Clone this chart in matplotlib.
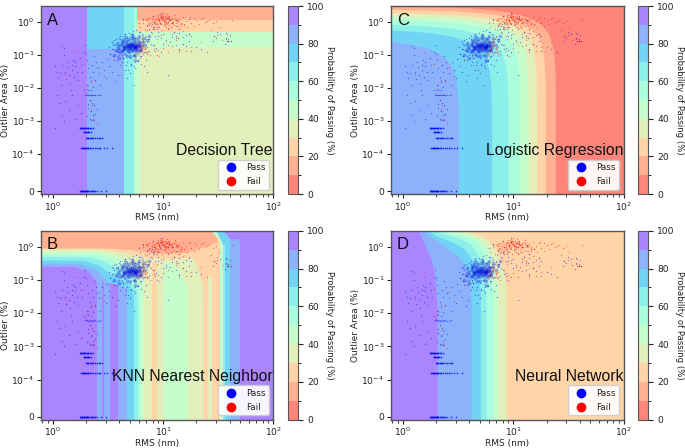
import numpy as np
import matplotlib
matplotlib.use("Agg")
import matplotlib.pyplot as plt
from matplotlib.colors import ListedColormap, BoundaryNorm
from matplotlib.cm import ScalarMappable
from matplotlib.lines import Line2D
from matplotlib.patches import Polygon
from matplotlib.ticker import NullLocator

# ---------- background fields ----------
levels = [0, 10, 20, 30, 40, 50, 60, 70, 80, 90, 100]
XMIN, XMAX, YMIN, YMAX = 0.78, 100, -8e-6, 3.0

# A: decision tree cells
tree_x = [0.78, 2.02, 4.4, 5.48, 5.82, 6.15, 100]
tree_y = [-8e-6, 0.15, 0.178, 0.49, 1.15, 3.0]
tree_p = [[95, 85, 65, 45, 45, 35],
          [95, 75, 65, 55, 45, 35],
          [95, 75, 65, 55, 45, 45],
          [95, 75, 65, 55, 25, 25],
          [95, 75, 65, 55, 15, 15]]

# B: KNN vertical strips (log10 RMS edges, band mid value)
knn_edges = [-0.11, .399, .442, .463, .517, .593, .674, .735, .769, .789, .828, .896, .941,
             1.010, 1.222, 1.367, 1.409, 1.440, 1.513, 1.545, 1.561, 1.606, 1.697, 2.0]
knn_vals = [95, 85, 95, 85, 95, 85, 75, 65, 55, 45, 35, 25, 35, 45, 35, 25, 35, 25, 45, 65, 75, 85, 95]
# B: level curves of the upper cap (log10 RMS, log10 area; -9 means the axis bottom)
knn_curves = [
    (85, [-.11, .2, .318, .39, .644, .672, .672], [-.606, -.606, -.727, -1.03, -1.121, -1.182, .5]),
    (75, [-.11, .245, .399, .499, .672, .672], [-.5, -.515, -.697, -1.06, -1.242, .5]),
    (65, [-.11, .29, .426, .563, .699, .735, .735], [-.409, -.424, -.576, -.909, -1.152, -1.455, .5]),
    (55, [-.11, .336, .472, .653, .762, .769, .769], [-.303, -.318, -.455, -.848, -1.303, -1.606, .5]),
    (45, [-.11, .381, .517, .653, .789, .808, .808], [-.227, -.242, -.364, -.636, -1.152, -1.606, .5]),
    (35, [-.11, .426, .563, .699, .835, .944, 1.08, 1.18, 1.225, 1.225, 1.367, 1.367],
         [-.152, -.152, -.242, -.455, -.545, -.455, -.515, -.788, -1.303, -9, -9, .5]),
    (45, [1.406, 1.488, 1.513, 1.545, 1.479], [.5, .273, .06, .06, .5]),
    (75, [1.479, 1.545, 1.606, 1.606, 1.534], [.5, .06, .06, .5, .5]),
    (25, [-.11, .426, .653, .835, 1.016, 1.27, 1.316, 1.361, 1.367, 1.367, 1.513, 1.513, 1.488, 1.406],
         [-.076, -.076, -.182, -.333, -.364, -.333, -.636, -1.152, -1.606, -9, -9, .06, .273, .5]),
    (35, [1.409, 1.409, 1.440, 1.440], [-9, -.909, -.909, -9]),
    (15, [-.11, .426, .699, .88, 1.062, 1.216, 1.379, 1.488, 1.497, 1.443, 1.379, 1.379],
         [-.045, -.045, -.091, -.182, -.212, -.182, 0, .121, .212, .424, .485, .5]),
    (95, [1.697, 1.606, 1.58, 1.534, 2.0, 2.0], [.227, .227, .35, .5, .5, .227]),
]

# C: logistic regression, straight boundaries (value, RMS intercept, area intercept)
logit_vals = [15, 25, 35, 45, 55, 65, 75, 85]
logit_x0 = [24.2, 19.6, 16.4, 13.7, 11.5, 9.0, 6.4, 3.2]
logit_y0 = [3.0, 2.4, 1.89, 1.54, 1.234, 0.876, 0.615, 0.317]

# D: neural network level curves (log10 RMS, log10 area)
nn_curves = [
    (35, [.485, .621, .742, .833, .909, .936, .942], [.49, .41, .28, -.04, -.64, -1.24, -1.94]),
    (45, [.409, .5, .621, .742, .827, .858, .864], [.49, .42, .33, .11, -.44, -1.14, -1.94]),
    (55, [.333, .439, .561, .682, .773, .812, .818], [.49, .39, .30, .11, -.44, -1.14, -1.94]),
    (65, [.288, .379, .5, .621, .712, .748, .755], [.49, .36, .26, .04, -.44, -1.14, -1.94]),
    (75, [.227, .318, .439, .561, .667, .697, .706], [.49, .28, .14, -.09, -.59, -1.14, -1.94]),
    (85, [.191, .258, .379, .5, .576, .615, .621], [.49, .26, .01, -.29, -.64, -1.24, -1.94]),
    (95, [.136, .197, .264, .294, .312], [.49, .06, -.44, -1.04, -1.74]),
]

# ---------- measurements ----------
pass_rms = [1.05,1.1,1.12,1.15,1.18,1.2,1.22,1.25,1.27,1.3,1.32,1.35,1.38,1.4,1.43,1.45,1.48,1.5,1.52,1.55,1.58,1.6,1.65,1.7,1.75,1.8,1.85,1.9,1.95,
    1.1,1.15,1.2,1.25,1.3,1.4,1.5,1.6,1.05,1.7,1.8,1.9,2.0,2.05,2.1,2.15,2.2,2.25,2.3,2.35,2.4,2.45,2.5,2.6,2.7,2.8,2.9,3.0,3.1,3.2,3.3,3.4,3.5,3.6,3.7,3.8,3.9,4.1,4.3,4.5,4.7,5.0,5.4,
    1.95,2.0,2.05,2.1,2.12,2.15,2.2,2.25,2.3,2.35,2.4,2.5,2.6,2.7,2.05,2.1,2.2,2.3,2.15,2.25,2.35,2.1,2.2,2.05,2.15,2.3,2.4,2.5,2.2,2.1,2.3,
    3.3,3.4,3.5,3.6,3.7,3.8,3.9,4.0,4.1,4.2,4.3,4.4,4.6,4.8,5.0,5.2,5.4,5.6,5.8,6.0,6.2,6.4,6.6,6.8,7.0,7.2,7.5,7.8,8.0,8.3,8.6,9.0,9.5,10,
    3.5,3.7,3.9,4.1,4.3,4.5,4.7,4.9,5.1,5.3,5.5,5.7,5.9,6.1,6.3,6.5,6.7,6.9,7.3,7.7,8.2,8.8,
    3.2,3.4,3.6,3.8,4.0,4.2,4.5,4.8,5.1,5.5,5.9,6.3,6.7,7.1,
    7.5,8.0,8.5,9.0,9.5,10,10.5,11,11.5,12,12.5,13,13.5,14,15,16,17,18,20,22,25,11,13,9.5,8.2,
    12,13,14,15,16,17,18,14,11,9.5,
    29,31,33,36,37,38,39,40,41,37,39,30,28,
    6.0,6.5,7.2,8.1,8.8,9.6,10.4,11.2,7.9,9.2,12.1,13.4]
pass_area = [.045,.03,.02,.028,.012,.05,.19,.1,.16,.03,.019,.06,.042,.025,.014,.009,.05,.035,.07,.022,.045,.06,.03,.018,.08,.05,.03,.12,.2,
    .006,.0035,.0015,.001,.004,.0022,.006,.0012,.0006,.003,.0018,.0085,.11,.07,.04,.022,.015,.05,.03,.09,.018,.06,.04,.028,.012,.06,.035,.02,.075,.045,.11,.03,.15,.07,.016,.09,.025,.05,.08,.035,.02,.028,.012,
    .0062,.0062,.0061,.006,.0062,.006,.0061,.006,.0062,.006,.0061,.006,.006,.0061,.012,.009,.0085,.011,.0045,.0035,.003,.0025,.002,.0014,.0012,.0011,.0017,.0023,.0011,.0033,.0015,
    .11,.15,.09,.2,.13,.07,.25,.1,.3,.06,.17,.38,.05,.28,.08,.42,.045,.33,.065,.5,.09,.44,.11,.3,.07,.25,.13,.5,.2,.6,.16,.38,.12,.22,
    .22,.3,.12,.38,.08,.42,.06,.47,.055,.52,.06,.55,.07,.5,.09,.4,.12,.35,.3,.22,.15,.1,
    .17,.24,.28,.13,.33,.1,.42,.035,.05,.04,.065,.055,.045,.03,
    .62,.7,.38,.5,.33,.42,.28,.6,.25,.35,.5,.2,.32,.14,.22,.18,.26,.13,.17,.15,.12,.025,.75,.85,.95,
    .42,.36,.46,.34,.4,.44,.38,.6,1.0,1.4,
    .38,.5,.42,.21,.32,.27,.3,.4,.27,.45,.27,.33,.27,
    .9,1.2,.75,1.5,.6,1.8,1.05,1.3,.85,.7,.95,1.1]

# quantised rows at small outlier area
row_rms = [1.75,1.78,1.8,1.83,1.85,1.88,1.9,1.93,1.95,1.98,2.0,2.03,2.05,2.08,2.1,2.15,2.2,2.25,2.3,2.35,2.4,2.5,2.75,3.0,
    1.8,1.83,1.86,1.9,1.93,1.96,2.0,2.03,2.06,2.1,2.15,2.2,2.3,2.4,2.5,2.6,2.7,2.9,3.1,3.4,
    2.0,2.03,2.06,2.1,2.15,2.2,2.25,2.3,2.4,2.5,2.6,2.7,2.8,
    1.9,1.93,1.96,2.0,2.03,2.06,2.1,2.13,2.2,
    1.75,1.78,1.8,1.83,1.86,1.9,1.93,1.96,2.0,2.03,2.06,2.1,2.15,2.2,2.3]
row_area = [0,0,0,0,0,0,0,0,0,0,0,0,0,0,0,0,0,0,0,0,0,0,0,0,
    .000156,.000156,.000156,.000156,.000156,.000156,.000156,.000156,.000156,.000156,.000156,.000156,.000156,.000156,.000156,.000156,.000156,.000156,.000156,.000156,
    .00031,.00031,.00031,.00031,.00031,.00031,.00031,.00031,.00031,.00031,.00031,.00031,.00031,
    .00047,.00047,.00047,.00047,.00047,.00047,.00047,.00047,.00047,
    .00062,.00062,.00062,.00062,.00062,.00062,.00062,.00062,.00062,.00062,.00062,.00062,.00062,.00062,.00062]

fail_rms = [6.2,6.5,6.8,7.0,7.2,7.5,7.7,8.0,8.2,8.4,8.6,8.8,9.0,9.2,9.4,9.6,9.8,10,10.2,10.4,10.6,10.8,11,11.3,11.6,12,12.4,12.8,13.2,13.6,14,14.5,15,15.5,16,17,18,19,20,22,24,26,28,30,
    7.1,7.6,8.1,8.5,8.9,9.3,9.7,10.1,10.5,10.9,11.4,11.9,12.5,13.1,13.8,14.6,15.5,16.5,17.5,19,21,23,25,
    6.6,7.3,7.9,8.3,8.7,9.1,9.5,9.9,10.3,10.7,11.2,11.7,12.2,13,
    6.0,6.2,6.4,6.6,6.8,7.0,7.2,7.4,7.6,7.9,8.2,8.5,8.8,9.2,9.6,10,10.5,11,12,13,14,15,16,18,
    5.4,5.6,5.8,6.0,6.2,6.4,6.6,6.9,7.2,5.9,6.1,6.5,
    29,31,34,37,39,41,38,
    2.02,2.1,2.15,2.2,2.25,2.3,2.35,2.0,2.4,2.5,2.2,1.3,1.55,1.9,2.6,2.9,3.6,4.2,
    13,15,17,22,27,32,39,42,11,8.9,7.4,14]
fail_area = [.7,.95,.6,1.1,.8,1.3,.75,1.5,1.0,.85,1.25,.7,1.6,1.05,.9,1.35,1.15,1.8,.8,1.45,1.0,1.25,.65,1.5,1.1,1.3,.8,1.6,1.05,.75,1.2,.95,1.4,.85,1.05,1.25,.9,1.3,1.1,1.2,1.0,1.15,.9,1.05,
    .55,.9,.62,1.15,.72,1.4,.58,1.0,.68,1.7,.82,1.2,.5,.95,.6,.72,.82,.7,1.4,.75,.85,1.3,1.05,
    1.15,1.05,1.3,1.2,1.35,1.1,1.25,1.45,1.05,1.3,1.2,1.1,1.0,1.15,
    .25,.14,.3,.2,.12,.36,.17,.26,.1,.45,.2,.13,.3,.09,.4,.16,.24,.12,.19,.28,.15,.22,.13,.17,
    .1,.16,.22,.13,.18,.12,.2,.15,.11,.24,.08,.28,
    .36,.4,.28,.3,.26,.27,.42,
    .0095,.012,.0045,.0022,.0031,.0012,.0011,.0072,.016,.0009,.018,.026,.12,.055,.043,.023,.068,.09,
    .33,.52,.44,.25,.55,.7,.27,1.1,.2,.14,.31,.12]

# dense parts of the clouds
core_pass_rms = [3.9,4.1,4.2,4.3,4.4,4.5,4.5,4.6,4.7,4.7,4.8,4.8,4.9,4.9,5.0,5.0,5.1,5.1,5.2,5.2,5.3,5.3,5.4,5.4,5.5,5.5,5.6,5.6,5.7,5.8,5.8,5.9,6.0,6.1,6.2,6.4,4.4,4.7,5.0,5.3,5.6,5.9,4.2,3.7,6.5,
    3.6,3.8,4.0,6.6,6.9,7.2,7.5,5.2,5.6,6.0,4.6,
    4.0,4.3,4.6,4.9,5.2,5.5,5.8,6.1,4.1,4.4,4.7,5.0,5.3,5.6,5.9,6.2,4.2,4.5,4.8,5.1,5.4,5.7,6.0,6.3,4.3,4.6,4.9,5.2,5.5,5.8,4.8,5.1,5.4,5.7,5.0,5.3]
core_pass_area = [.17,.2,.13,.24,.16,.19,.11,.27,.14,.22,.17,.3,.12,.2,.15,.25,.18,.32,.13,.22,.16,.28,.1,.19,.14,.24,.18,.3,.12,.21,.16,.26,.13,.19,.24,.17,.3,.09,.09,.34,.09,.33,.27,.14,.25,
    .1,.22,.08,.33,.2,.28,.36,.4,.07,.37,.35,
    .15,.19,.23,.16,.21,.17,.14,.22,.12,.15,.18,.22,.14,.2,.18,.15,.22,.17,.13,.19,.23,.16,.2,.14,.14,.16,.18,.2,.16,.18,.2,.15,.17,.19,.17,.19]
core_fail_rms = [6.3,6.6,6.9,7.1,5.9,6.2,6.5,7.4,7.9,8.5,9.0,9.4,9.8,10.1,10.5,10.9,11.3,8.8,9.6,10.3,11.0,9.2,10.0,12.0,12.8,13.6,11.7,8.2,7.2,14.5]
core_fail_area = [.14,.2,.16,.12,.11,.17,.25,.85,1.05,1.0,1.25,.95,1.4,1.1,1.3,.95,1.15,.85,1.55,.85,1.35,1.1,1.2,.95,1.25,1.05,.7,.72,1.2,.85]

# ---------- text ----------
panels = [("A", "Decision Tree", "Outlier Area (%)"),
          ("B", "KNN Nearest Neighbor", "Outlier (%)"),
          ("C", "Logistic Regression", "Outlier Area (%)"),
          ("D", "Neural Network", "Outlier Area (%)")]
ytick_vals = [0, 1e-4, 1e-3, 1e-2, 1e-1, 1e0]
ytick_labs = ["0", r"$\mathdefault{10^{-4}}$", r"$\mathdefault{10^{-3}}$", r"$\mathdefault{10^{-2}}$",
              r"$\mathdefault{10^{-1}}$", r"$\mathdefault{10^{0}}$"]

# ---------- styles ----------
ALPHA = 0.56
base = plt.get_cmap("rainbow_r")
band_vals = [5, 15, 25, 35, 45, 55, 65, 75, 85, 95]
blend = lambda c: tuple(ALPHA * np.array(c[:3]) + (1 - ALPHA))
band_cols = {v: blend(base(v / 100)) for v in band_vals}
cmap = ListedColormap([band_cols[v] for v in band_vals])
norm = BoundaryNorm(levels, cmap.N)


def to_area(ly):
    ly = np.asarray(ly, float)
    out = 10.0 ** ly
    out[ly <= -9] = YMIN * 2
    return out


def cap_poly(ax, val, lx, ly):
    xy = np.column_stack([10.0 ** np.asarray(lx, float), to_area(ly)])
    ax.add_patch(Polygon(np.vstack([xy, [[XMIN * 0.9, YMAX * 1.2]]]) if lx[0] < -.1 else xy,
                         closed=True, fc=band_cols[val], ec=band_cols[val], lw=0.3, zorder=1))


def left_poly(ax, val, x, y):
    xy = np.column_stack([x, y])
    xy = np.vstack([[[XMIN * 0.9, YMAX * 1.2]], xy, [[x[-1], YMIN * 2], [XMIN * 0.9, YMIN * 2]]])
    ax.add_patch(Polygon(xy, closed=True, fc=band_cols[val], ec=band_cols[val], lw=0.3, zorder=1))


def draw_tree(ax):
    ax.pcolormesh(tree_x, tree_y, np.array(tree_p), cmap=cmap, norm=norm, shading="flat", zorder=1)


def draw_knn(ax):
    edges = 10.0 ** np.array(knn_edges)
    ax.pcolormesh(edges, [YMIN * 2, YMAX * 1.2], np.array([knn_vals]), cmap=cmap, norm=norm,
                  shading="flat", zorder=1)
    for val, lx, ly in knn_curves:
        cap_poly(ax, val, lx, ly)


def draw_logit(ax):
    ax.set_facecolor(band_cols[5])
    for val, x0, y0 in zip(logit_vals, logit_x0, logit_y0):
        y = np.geomspace(y0 * (1 - XMIN * 0.9 / x0), 1e-5, 90)
        x = x0 * (1 - y / y0)
        xy = np.vstack([np.column_stack([x, y]), [[x0, YMIN * 2], [XMIN * 0.9, YMIN * 2]]])
        ax.add_patch(Polygon(xy, closed=True, fc=band_cols[val], ec=band_cols[val], lw=0.3, zorder=1))


def draw_nn(ax):
    ax.set_facecolor(band_cols[25])
    for val, lx, ly in nn_curves:
        left_poly(ax, val, 10.0 ** np.array(lx), 10.0 ** np.array(ly))


drawers = {"A": draw_tree, "B": draw_knn, "C": draw_logit, "D": draw_nn}
boxes = {"A": (41, 6, 273.5, 194, 288.3, 298), "C": (391, 6, 623.7, 194, 638.3, 648),
         "B": (41, 230.7, 273.5, 419.7, 288.3, 298), "D": (391, 230.7, 623.7, 419.7, 638.3, 648)}

W, H = 685, 448
fig = plt.figure(figsize=(W / 100, H / 100), dpi=100)
SPINE = "#555555"
TXT = "#222222"

for letter, title, ylabel in panels:
    l, t, r, b, cl, cr = boxes[letter]
    ax = fig.add_axes([l / W, 1 - b / H, (r - l) / W, (b - t) / H])
    ax.set_xscale("log")
    ax.set_yscale("symlog", linthresh=1e-4, linscale=1.0)
    ax.set_xlim(XMIN, XMAX)
    ax.set_ylim(YMIN, YMAX)
    drawers[letter](ax)
    ax.scatter(pass_rms, pass_area, s=1.0, c="#0000ff", alpha=0.45, linewidths=0, zorder=3)
    ax.scatter(row_rms, row_area, s=1.6, c="#0000ff", alpha=0.7, linewidths=0, zorder=3)
    ax.scatter(fail_rms, fail_area, s=1.0, c="#ff0000", alpha=0.45, linewidths=0, zorder=3)
    ax.scatter(core_pass_rms, core_pass_area, s=7, c="#0000e0", alpha=0.3, linewidths=0, zorder=3)
    ax.scatter(core_fail_rms, core_fail_area, s=3.5, c="#ff0000", alpha=0.3, linewidths=0, zorder=3)
    ax.set_yticks(ytick_vals, ytick_labs)
    ax.yaxis.set_minor_locator(NullLocator())
    ax.tick_params(labelsize=6.6, colors=TXT, width=0.8, length=3, pad=2)
    ax.tick_params(axis="x", pad=1.5)
    ax.tick_params(which="minor", width=0.6, length=2, colors=TXT)
    for s in ax.spines.values():
        s.set_color(SPINE)
        s.set_linewidth(1.0)
    ax.set_xlabel("RMS (nm)", fontsize=6.5, color=TXT)
    ax.set_ylabel(ylabel, fontsize=6.5, color=TXT)
    ax.xaxis.set_label_coords(0.5, -0.102)
    ax.yaxis.set_label_coords(-0.133, 0.5)
    ax.text(0.025, 0.925, letter, transform=ax.transAxes, fontsize=12, family="Liberation Sans",
            color="#111111", va="center", ha="left", zorder=6)
    ax.text(0.997, 0.229, title, transform=ax.transAxes, fontsize=11.3, family="Liberation Sans",
            color="#111111", va="center", ha="right", zorder=6)
    handles = [Line2D([], [], ls="", marker="o", ms=6, color="#0000ff", label="Pass"),
               Line2D([], [], ls="", marker="o", ms=6, color="#ff0000", label="Fail")]
    ax.legend(handles=handles, loc="lower right", fontsize=6.4, borderaxespad=0.5,
              labelspacing=0.55, handletextpad=0.72, borderpad=0.4, framealpha=0.92,
              labelcolor=TXT).set_zorder(7)

    cax = fig.add_axes([cl / W, 1 - b / H, (cr - cl) / W, (b - t) / H])
    cb = fig.colorbar(ScalarMappable(norm=norm, cmap=cmap), cax=cax, spacing="proportional",
                      ticks=[0, 20, 40, 60, 80, 100])
    cb.ax.tick_params(labelsize=6.6, colors=TXT, width=0.8, length=3.5, pad=3)
    cb.outline.set_edgecolor(SPINE)
    cb.set_label("Probability of Passing (%)", fontsize=6.1, color=TXT, rotation=270, va="center")
    cb.ax.yaxis.set_label_coords(4.2, 0.5)

fig.savefig("out.png", dpi=100)
